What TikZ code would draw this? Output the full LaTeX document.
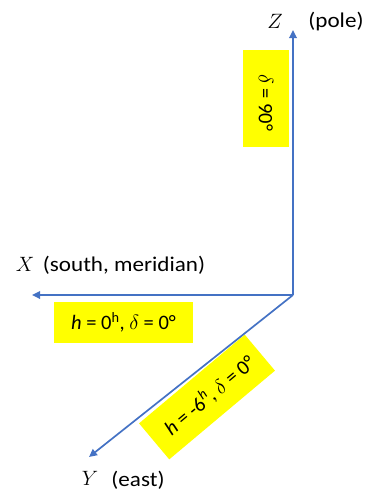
\documentclass[tikz,border=0pt]{standalone}
\usepackage{fontspec}
\setmainfont{Carlito}
\newfontfamily\widefont{Carlito}[FakeStretch=1.1]
\usetikzlibrary{arrows.meta}
\definecolor{axisblue}{RGB}{68,114,196}
\definecolor{hlyellow}{RGB}{255,255,0}
\begin{document}
\begin{tikzpicture}[x=1pt,y=-1pt,
  axis/.style={draw=axisblue, line width=1.7pt, -{Triangle[length=8pt,width=7.5pt]}},
  lbl/.style={font=\widefont\fontsize{21}{25}\selectfont, inner sep=0pt},
  mlbl/.style={font=\fontsize{20}{24}\selectfont, inner sep=0pt},
  hbox/.style={fill=hlyellow, inner sep=0pt, font=\fontsize{20.5}{24}\selectfont}]
\useasboundingbox (0,0) rectangle (367,491);
\coordinate (O) at (293,295);
\coordinate (Zend) at (293,30);
\coordinate (Xend) at (32,295);
\coordinate (Yend) at (89,457);
% highlight boxes
\node[hbox, rotate=-90, minimum width=97pt, minimum height=46pt] (dz) at (266,98.5) {\hspace{8pt}$\delta$ = 90°};
\node[hbox, minimum width=139pt, minimum height=41pt] (dx) at (123.5,322.5) {\textit{h} = 0\textsuperscript{h}, $\delta$ = 0°};
\node[hbox, rotate=40, minimum width=138pt, minimum height=47pt] (dy) at (207,397) {\hspace{6pt}\textit{h} = -6\textsuperscript{\textit{h}}, $\delta$ = 0°};
% axes
\draw[axis] (O) -- (Zend);
\draw[axis] (O) -- (Xend);
\draw[axis] (O) -- (Yend);
% labels
\node[mlbl] (zl) at (275,21) {$Z$};
\node[lbl] (zp) at (336,22) {(pole)};
\node[mlbl] (xl) at (25,264) {$X$};
\node[lbl] (xp) at (124,265) {(south, meridian)};
\node[mlbl] (yl) at (90,478) {$Y$};
\node[lbl] (yp) at (138,480) {(east)};
\end{tikzpicture}
\end{document}
